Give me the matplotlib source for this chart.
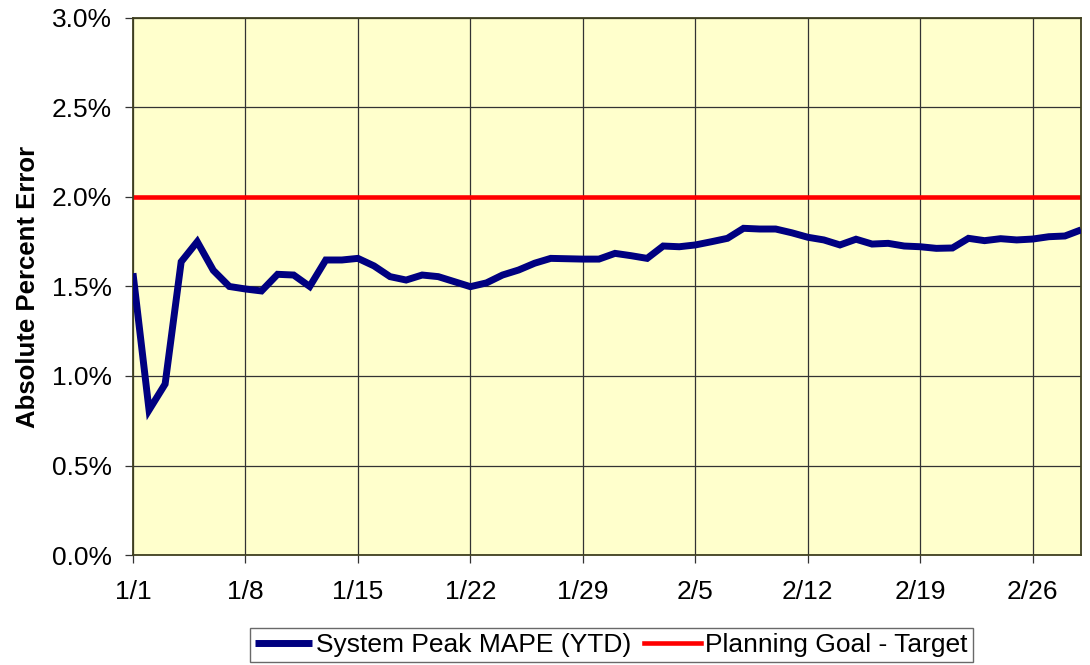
import matplotlib.pyplot as plt
from matplotlib.ticker import FuncFormatter, MultipleLocator

plt.rcParams["font.family"] = ["Liberation Sans", "DejaVu Sans"]

# daily year-to-date MAPE, 1/1 through 2/29 (day 0 = 1/1)
days = list(range(60))
mape_ytd = [
    1.574, 0.81, 0.955, 1.638, 1.75, 1.59, 1.50, 1.486, 1.475, 1.568,
    1.564, 1.50, 1.648, 1.648, 1.657, 1.615, 1.555, 1.536, 1.564, 1.555,
    1.527, 1.499, 1.52, 1.564, 1.592, 1.63, 1.657, 1.655, 1.653, 1.653,
    1.685, 1.672, 1.657, 1.726, 1.722, 1.732, 1.75, 1.769, 1.825, 1.821,
    1.821, 1.80, 1.775, 1.76, 1.732, 1.764, 1.737, 1.741, 1.726, 1.722,
    1.713, 1.715, 1.769, 1.756, 1.767, 1.76, 1.765, 1.778, 1.782, 1.816,
]
goal = 2.0

tick_days = [0, 7, 14, 21, 28, 35, 42, 49, 56]
tick_labels = ["1/1", "1/8", "1/15", "1/22", "1/29", "2/5", "2/12", "2/19", "2/26"]

fig = plt.figure(figsize=(10.9, 6.65), dpi=100)
ax = fig.add_axes([0.122, 0.1654, 0.8697, 0.8076])
ax.set_facecolor("#FFFFCC")

ax.plot(days, mape_ytd, color="#000080", lw=5.0, solid_joinstyle="miter",
        solid_capstyle="butt", label="System Peak MAPE (YTD)", zorder=3)
ax.axhline(goal, color="#FF0000", lw=3.3, label="Planning Goal - Target", zorder=2)

ax.set_xlim(0, 59)
ax.set_ylim(0, 3.0)
ax.set_xticks(tick_days)
ax.set_xticklabels(tick_labels)
ax.yaxis.set_major_locator(MultipleLocator(0.5))
ax.yaxis.set_major_formatter(FuncFormatter(lambda v, _: f"{v:.1f}%"))

ax.grid(True, color="#333333", lw=0.9)
ax.set_axisbelow(True)
ax.tick_params(labelsize=19, length=6, width=0.9, color="#333333")
ax.tick_params(axis="x", pad=12)
ax.tick_params(axis="y", pad=9)
for s in ax.spines.values():
    s.set_color("#404020")
    s.set_linewidth(1.3)

ax.set_ylabel("Absolute Percent Error", fontsize=18.5, fontweight="bold", labelpad=9)

leg = fig.legend(loc="lower center", bbox_to_anchor=(0.561, 0.0), ncol=2,
                 fontsize=19, frameon=True, fancybox=False, handlelength=2.15,
                 handletextpad=0.15, columnspacing=0.5, borderpad=0.2,
                 borderaxespad=0.1)
leg.get_frame().set_edgecolor("#444444")
leg.get_frame().set_linewidth(1.0)

fig.savefig("out.png", dpi=100)
